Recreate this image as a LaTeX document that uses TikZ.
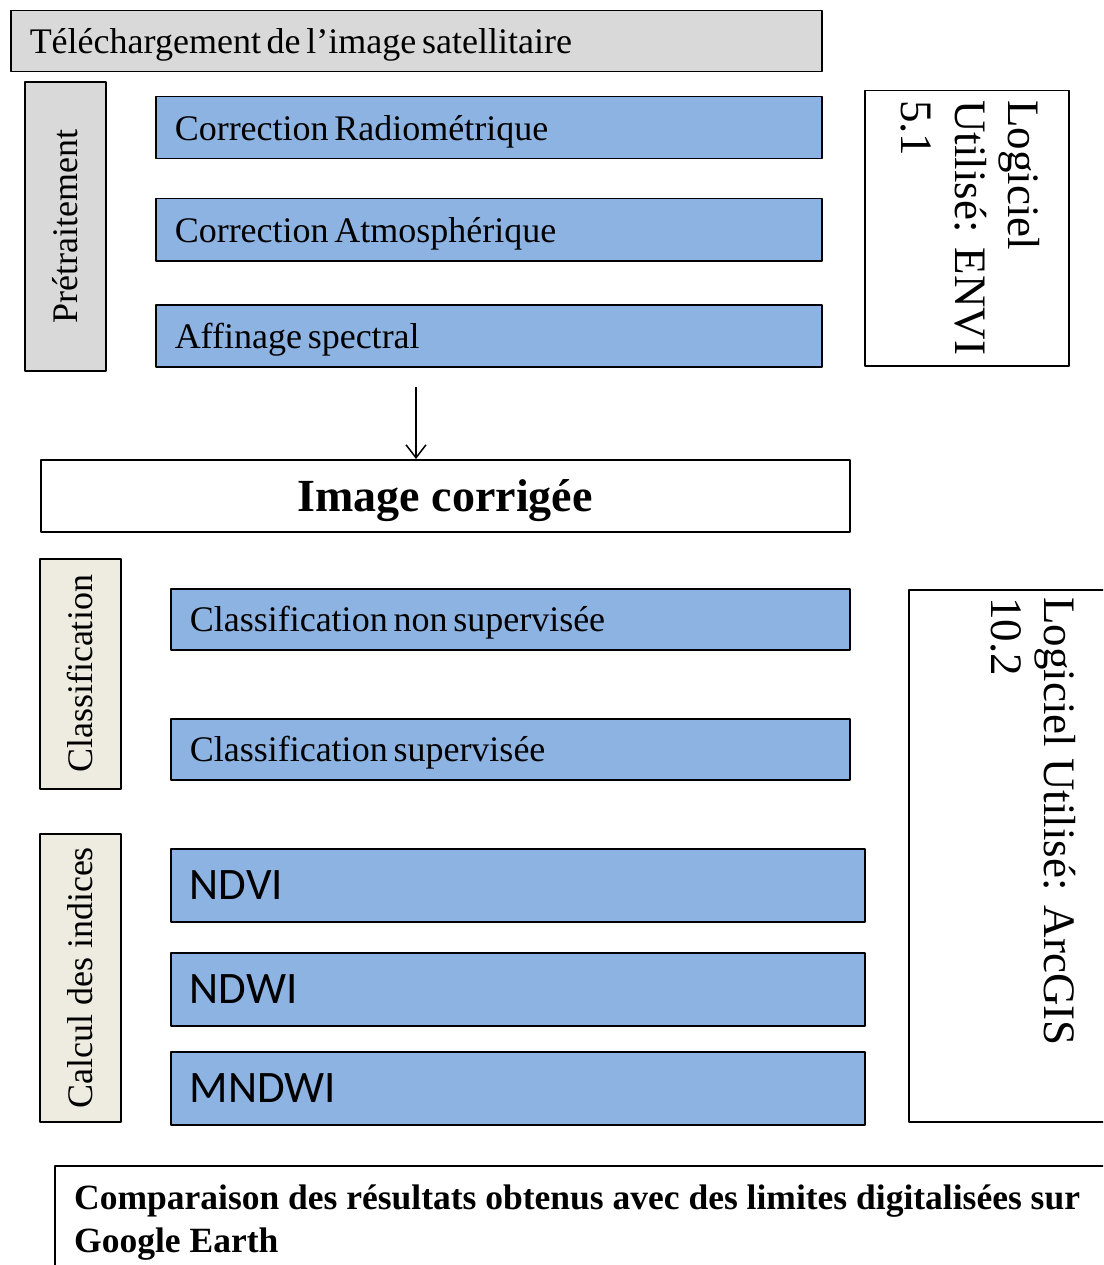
\documentclass[tikz,border=0pt]{standalone}
\usepackage{fontspec}
\setmainfont{Liberation Serif}
\newfontfamily\calibri{Carlito}
\usetikzlibrary{arrows.meta}
\definecolor{grisclair}{HTML}{D9D9D9}
\definecolor{bleuciel}{HTML}{8DB3E2}
\definecolor{beigeclair}{HTML}{EEECE1}
\newcommand{\moyen}{\fontsize{36}{43}\selectfont}
\newcommand{\grand}{\fontsize{45}{53.5}\selectfont}

\begin{document}
\begin{tikzpicture}[x=1pt, y=-1pt, line join=round, >={Straight Barb[length=13pt, width=20pt]},
		cadre/.style={draw=black, line width=1.5pt, inner sep=0pt},
		etape/.style={cadre, fill=bleuciel, anchor=north west, align=left, inner xsep=19pt, text depth=0pt, font=\moyen,
			execute at begin node={\spaceskip=0.16em plus 0.05em\relax}},
		indice/.style={etape, minimum height=73pt, text width=656pt, font=\calibri\grand},
		lateral/.style={cadre, rotate=90, minimum height=81pt, font=\moyen},
		logiciel/.style={rotate=-90, anchor=north west, inner sep=0pt, align=left, font=\grand}]
	\clip (0,0) rectangle (1103,1265);
	
	% pretraitement
	\node[etape, fill=grisclair, text width=773pt, minimum height=61pt] (telech) at (10,10) {Téléchargement de l’image satellitaire};
	\node[lateral, fill=grisclair, minimum width=289pt] (pretr) at (65.5,226.5) {Prétraitement};
	\node[etape, text width=628pt, minimum height=62pt] (radio) at (155,96) {Correction Radiométrique};
	\node[etape, text width=628pt, minimum height=62pt] (atmo) at (155,198) {Correction Atmosphérique};
	\node[etape, text width=628pt, minimum height=62pt] (affin) at (155,304) {Affinage spectral};
	\node[cadre, fill=white, anchor=north west, minimum width=204pt, minimum height=275pt] (envi) at (864,90) {};
	\node[logiciel] (envitxt) at (1040,100) {Logiciel\\Utilisé: ENVI\\5.1};
	
	\coordinate (depart) at (416,387);
	\node[cadre, fill=white, anchor=north west, minimum width=809pt, minimum height=72pt, text depth=0pt, font=\bfseries\fontsize{46}{55}\selectfont] (corr) at (40,459) {Image corrigée};
	\draw[->, line width=1.5pt] (depart) -- (depart |- corr.north);
	
	% classification et indices
	\node[lateral, fill=beigeclair, minimum width=230pt] (classif) at (80.5,674) {Classification};
	\node[etape, text width=641pt, minimum height=61pt] (nonsup) at (170,588) {Classification non supervisée};
	\node[etape, text width=641pt, minimum height=61pt] (sup) at (170,718) {Classification supervisée};
	\node[lateral, fill=beigeclair, minimum width=288pt] (calcul) at (80.5,978) {Calcul des indices};
	\node[indice] (ndvi) at (170,848) {NDVI};
	\node[indice] (ndwi) at (170,952) {NDWI};
	\node[indice] (mndwi) at (170,1051) {MNDWI};
	\node[cadre, fill=white, anchor=north west, minimum width=220pt, minimum height=532pt] (arcgis) at (908,589) {};
	\node[logiciel] (arcgistxt) at (1076,597) {Logiciel Utilisé: ArcGIS\\10.2};
	
	% comparaison
	\node[cadre, anchor=north west, minimum width=1100pt, minimum height=150pt] (compar) at (54,1165) {};
	\node[anchor=north west, inner sep=0pt, align=left, font=\bfseries\fontsize{35.5}{43}\selectfont] (compartxt) at (74,1185) {Comparaison des résultats obtenus avec des limites digitalisées sur\\Google Earth};
\end{tikzpicture}
\end{document}
